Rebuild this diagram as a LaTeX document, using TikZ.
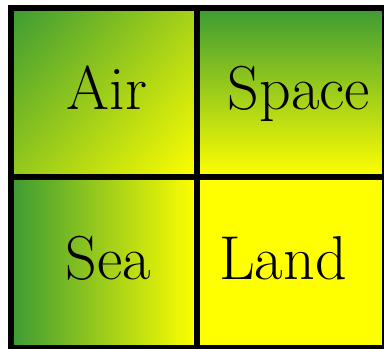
\documentclass[tikz,border=0pt]{standalone}
\definecolor{gr}{RGB}{60,155,52}
\definecolor{ye}{RGB}{255,255,0}
\tikzset{
  lbl/.style={font=\fontsize{62}{62}\selectfont, text=black, anchor=base, inner sep=0pt},
  frame/.style={draw=black, line width=6pt}
}
\begin{document}
\begin{tikzpicture}[x=1pt,y=1pt]
\useasboundingbox (0,0) rectangle (384,349);
\clip (0,0) rectangle (384,349);
% Air: diagonal gradient
\begin{scope}
  \clip (11,172) rectangle (197,341);
  \shade[left color=gr, right color=ye, transform canvas={rotate around={-42.26:(104,256.5)}}]
    (-21.6,126.5) rectangle (229.6,386.5);
\end{scope}
% Space: vertical gradient
\shade[top color=gr, bottom color=ye] (197,172) rectangle (384.5,341);
% Sea: horizontal gradient
\shade[left color=gr, right color=ye] (11,0.5) rectangle (197,172);
% Land: solid
\fill[ye] (197,0.5) rectangle (384.5,172);
% frame
\draw[frame] (11,0.5) rectangle (384.5,341);
\draw[frame] (197,0.5) -- (197,341);
\draw[frame] (11,172) -- (384.5,172);
% labels
\node[lbl] (air) at (107,239) {Air};
\node[lbl] (space) at (299,239) {Space};
\node[lbl] (sea) at (108,69) {Sea};
\node[lbl] (land) at (283,69) {Land};
\end{tikzpicture}
\end{document}
